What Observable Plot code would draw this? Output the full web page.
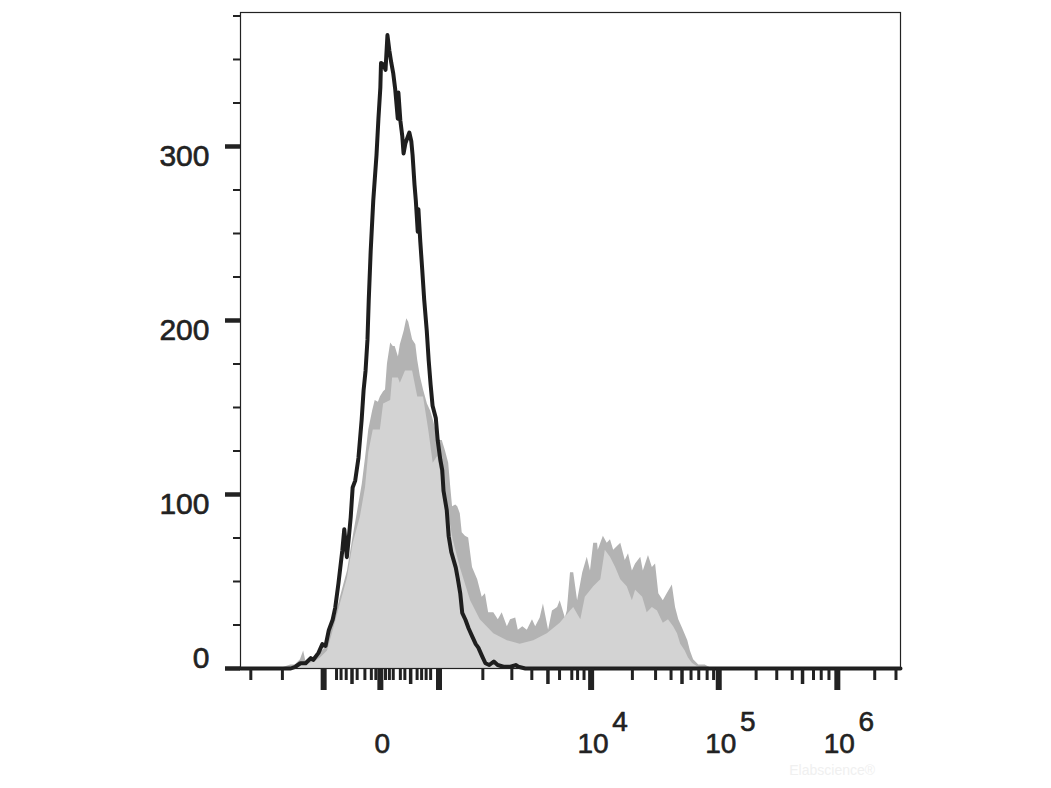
<!DOCTYPE html>
<html>
<head>
<meta charset="utf-8">
<script src="https://cdn.jsdelivr.net/npm/d3@7"></script>
<script src="https://cdn.jsdelivr.net/npm/@observablehq/plot@0.6"></script>
<style>
  html, body { margin: 0; padding: 0; background: #ffffff; }
  #chart { width: 1051px; height: 788px; }
</style>
</head>
<body>
<div id="chart"></div>
<script>
// ---- Data (x in display channels 0–1024 of the biexponential axis, y = cell count) ----
const blackChannel = [0,78,85,93,101,109,113,121,127,132,137,143,147,152,158,161,165,168,171,174,178,183,188,191,194,197,199,202,206,211,214,217,218,222,225,228,231,234,237,240,244,245,248,251,253,256,259,262,265,267,270,272,275,276,279,282,285,289,292,295,298,303,306,310,313,315,320,323,327,334,337,341,344,349,354,360,365,369,375,380,386,393,399,408,419,427,431,442,1024];
const blackCount   = [0,0,1,3,3,6,5,9,14,13,22,28,35,49,68,80,64,75,87,104,108,121,143,160,171,189,212,240,269,295,316,334,348,347,344,364,355,348,342,333,316,331,315,306,296,302,305,308,303,295,278,269,251,264,245,229,212,194,177,163,151,144,131,120,114,102,91,76,67,58,52,43,32,28,23,18,14,12,7,3,2,4,2,1,1,2,1,0,0];

const grayChannel = [0,62,70,78,85,93,98,102,109,113,119,124,132,140,147,155,166,174,182,189,194,199,205,209,214,217,222,225,228,233,237,240,245,248,251,254,258,261,264,267,272,275,279,284,290,295,299,306,310,313,318,323,326,329,334,337,341,344,349,354,360,368,375,380,385,393,400,406,414,419,427,431,438,445,453,458,465,470,478,484,492,496,504,507,512,517,523,531,538,543,548,554,555,563,569,574,579,590,597,602,608,613,621,625,633,639,644,649,656,662,670,675,680,686,694,698,703,711,721,726,732,1024];
const grayCount   = [0,0,1,2,2,5,10,3,5,6,8,9,12,22,29,41,56,74,91,106,121,137,148,154,153,156,159,160,175,187,185,185,179,186,190,194,201,199,194,189,186,177,168,160,152,148,143,133,131,131,125,118,105,93,94,93,89,78,76,75,58,51,41,43,32,32,28,32,24,28,29,22,24,22,28,24,29,37,22,33,35,39,29,33,55,55,39,55,64,56,72,72,68,76,72,74,68,72,62,66,56,60,64,56,65,58,60,43,39,43,48,35,28,23,16,10,5,2,2,1,0,0];

const lightChannel = [0,70,85,101,116,124,135,144,155,166,175,186,194,199,206,217,222,233,236,245,248,256,267,275,284,292,299,306,310,321,330,341,357,372,393,414,434,455,476,496,512,517,528,535,548,559,566,574,582,590,600,608,613,624,631,639,647,652,656,664,672,678,683,690,695,701,709,717,1024];
const lightCount   = [0,0,1,2,4,6,10,22,37,52,72,87,104,124,137,137,152,154,167,167,164,171,171,156,156,137,118,122,114,93,74,58,39,28,20,16,14,16,20,26,33,35,28,41,47,51,68,64,58,51,47,39,45,41,32,35,33,29,26,28,24,20,14,10,6,3,1,0,0];

// ---- Axis ticks ----
const yMajorTicks = [0, 100, 200, 300];
const yMinorTicks = [25, 50, 75, 125, 150, 175, 225, 250, 275, 325, 350, 375];
const yLabels = ["100", "200", "300"];
const yLabelValues = [100, 200, 300];
const yZeroLabel = ["0"];

const xMajorTicks  = [129, 217, 308, 544, 742, 926];
const xMediumTicks = [173, 264, 477, 685, 872];
const xMinorTicks  = [16, 65, 149, 156, 164, 181, 193, 203, 210, 225, 231, 237, 248, 255, 274, 281, 288, 295, 376, 421, 452, 495, 514, 523, 533, 608, 644, 668, 699, 711, 724, 734, 800, 832, 856, 889, 901, 913, 984, 1017];

const xLabelChannels = [217, 544, 742, 926];
const xLabelBase     = ["0", "10", "10", "10"];
const xSupChannels   = [544, 742, 926];
const xSupText       = ["4", "5", "6"];

const watermarkChannel = [918];
const watermarkText = ["Elabscience®"];

const toRows = (xs, ys) => xs.map((c, i) => ({c, n: ys[i]}));
const blackData = toRows(blackChannel, blackCount);
const grayData  = toRows(grayChannel, grayCount);
const lightData = toRows(lightChannel, lightCount);

const ink = "#222222";
const font = "'Liberation Sans', Arial, Helvetica, sans-serif";
const textStyle = {fill: ink, stroke: ink, strokeWidth: 0.6};

const chart = Plot.plot({
  width: 1051,
  height: 788,
  marginLeft: 240,
  marginRight: 151,
  marginTop: 12,
  marginBottom: 120,
  x: {domain: [0, 1024]},
  y: {domain: [0, 377]},
  style: {fontFamily: font, background: "#ffffff", color: ink},
  marks: [
    Plot.areaY(grayData,  {x: "c", y: "n", fill: "#b3b3b3", curve: "linear"}),
    Plot.areaY(lightData, {x: "c", y: "n", fill: "#d3d3d3", curve: "linear"}),
    Plot.lineY(blackData, {x: "c", y: "n", stroke: "#1e1e1e", strokeWidth: 4, curve: "linear"}),
    Plot.frame({stroke: ink, strokeWidth: 1.2}),

    // Y axis ticks and labels
    Plot.axisY(yMinorTicks, {tickSize: 7, strokeWidth: 2, stroke: ink, tickFormat: () => "", label: null}),
    Plot.axisY(yMajorTicks, {tickSize: 15, strokeWidth: 4.5, stroke: ink, tickFormat: () => "", label: null}),
    Plot.text(yLabelValues, {y: d => d, text: (d, i) => yLabels[i], frameAnchor: "left", textAnchor: "end", dx: -31, dy: 10, fontSize: 30, ...textStyle}),
    Plot.text(yZeroLabel, {y: () => 0, text: d => d, frameAnchor: "left", textAnchor: "end", dx: -31, dy: -10, fontSize: 30, ...textStyle}),

    // X axis ticks and labels
    Plot.axisX(xMinorTicks,  {tickSize: 12, strokeWidth: 3, stroke: ink, tickFormat: () => "", label: null}),
    Plot.axisX(xMediumTicks, {tickSize: 16, strokeWidth: 3.5, stroke: ink, tickFormat: () => "", label: null}),
    Plot.axisX(xMajorTicks,  {tickSize: 22, strokeWidth: 6, stroke: ink, tickFormat: () => "", label: null}),
    Plot.text(xLabelChannels, {x: d => d, text: (d, i) => xLabelBase[i], frameAnchor: "bottom", dx: 2, dy: 84, fontSize: 28, ...textStyle}),
    Plot.text(xSupChannels, {x: d => d, text: (d, i) => xSupText[i], frameAnchor: "bottom", dx: 29, dy: 62, fontSize: 28, ...textStyle}),

    // faint watermark
    Plot.text(watermarkChannel, {x: d => d, text: (d, i) => watermarkText[i], frameAnchor: "bottom", dy: 106, fontSize: 14, fill: "#f0f0f0"})
  ]
});

document.getElementById("chart").appendChild(chart);
</script>
</body>
</html>
